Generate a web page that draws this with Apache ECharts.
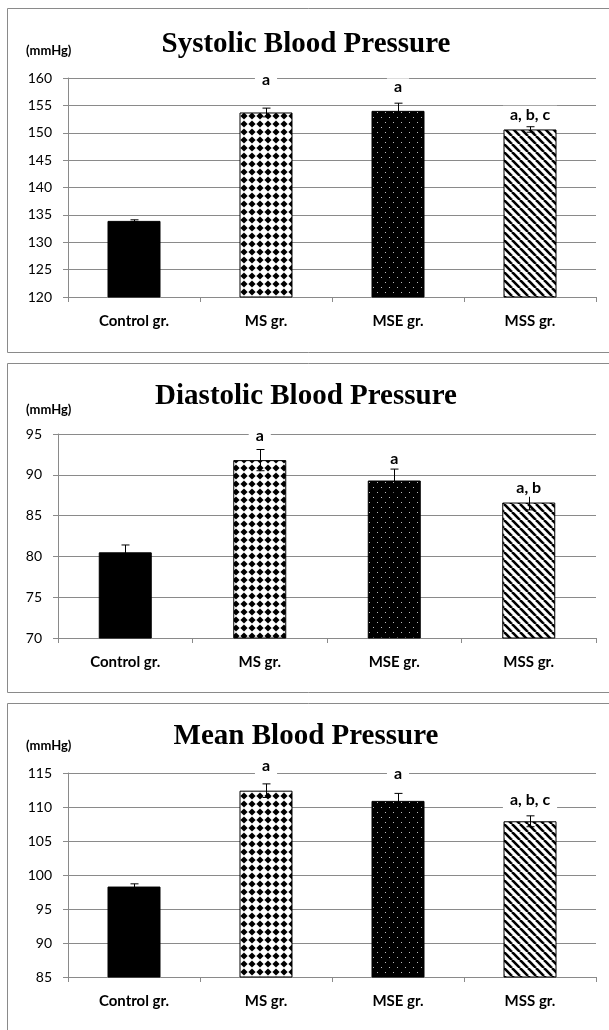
<!DOCTYPE html>
<html>
<head>
<meta charset="utf-8">
<script src="https://cdn.jsdelivr.net/npm/echarts@6/dist/echarts.min.js"></script>
<style>
  html, body { margin: 0; padding: 0; background: #fff; }
  #main { width: 609px; height: 1030px; }
</style>
</head>
<body>
<div id="main"></div>
<script>
// groups on the x axis
var groups = ['Control gr.', 'MS gr.', 'MSE gr.', 'MSS gr.'];

// systolic
var sysTicks = [120, 125, 130, 135, 140, 145, 150, 155, 160];
var sysMean = [133.9, 153.7, 154.0, 150.6];
var sysErr = [0.2, 0.8, 1.4, 0.5];
var sysLetters = ['', 'a', 'a', 'a, b, c'];
var sysLetterAt = [null, 159.6, 158.3, 153.3];

// diastolic
var diaTicks = [70, 75, 80, 85, 90, 95];
var diaMean = [80.5, 91.8, 89.3, 86.6];
var diaErr = [0.9, 1.3, 1.4, 0.9];
var diaLetters = ['', 'a', 'a', 'a, b'];
var diaLetterAt = [null, 94.8, 92.0, 88.4];

// mean
var meanTicks = [85, 90, 95, 100, 105, 110, 115];
var meanMean = [98.3, 112.4, 110.9, 107.9];
var meanErr = [0.4, 1.0, 1.1, 0.8];
var meanLetters = ['', 'a', 'a', 'a, b, c'];
var meanLetterAt = [null, 116.0, 114.9, 111.0];

var titles = ['Systolic Blood Pressure', 'Diastolic Blood Pressure', 'Mean Blood Pressure'];

// fill patterns like the excel ones
function makeTile(w, h, draw) {
  var c = document.createElement('canvas');
  c.width = w;
  c.height = h;
  draw(c.getContext('2d'), w, h);
  return c;
}
var diamondTile = makeTile(8, 8, function (ctx) {
  ctx.fillStyle = '#fff';
  ctx.fillRect(0, 0, 8, 8);
  ctx.fillStyle = '#000';
  ctx.beginPath();
  ctx.moveTo(4, 0.4); ctx.lineTo(7.6, 4); ctx.lineTo(4, 7.6); ctx.lineTo(0.4, 4);
  ctx.closePath();
  ctx.fill();
});
var dotTile = makeTile(8, 10, function (ctx) {
  ctx.fillStyle = '#000';
  ctx.fillRect(0, 0, 8, 10);
  ctx.fillStyle = '#bbb';
  ctx.fillRect(1, 2, 1, 1);
  ctx.fillRect(5, 7, 1, 1);
});
var stripeTile = makeTile(8, 8, function (ctx) {
  ctx.fillStyle = '#fff';
  ctx.fillRect(0, 0, 8, 8);
  ctx.strokeStyle = '#000';
  ctx.lineWidth = 2.6;
  [-8, 0, 8].forEach(function (o) {
    ctx.beginPath();
    ctx.moveTo(o, 0);
    ctx.lineTo(o + 8, 8);
    ctx.stroke();
  });
});
var fills = [
  '#000',
  { image: diamondTile, repeat: 'repeat' },
  { image: dotTile, repeat: 'repeat' },
  { image: stripeTile, repeat: 'repeat' }
];

var panels = [
  { ticks: sysTicks, mean: sysMean, err: sysErr, letters: sysLetters, at: sysLetterAt, left: 68, top: 78, height: 219, boxTop: 8, boxH: 344, titleY: 45, unitY: 51 },
  { ticks: diaTicks, mean: diaMean, err: diaErr, letters: diaLetters, at: diaLetterAt, left: 58, top: 434, height: 204, boxTop: 363, boxH: 329, titleY: 397, unitY: 410 },
  { ticks: meanTicks, mean: meanMean, err: meanErr, letters: meanLetters, at: meanLetterAt, left: 68, top: 773, height: 204, boxTop: 703, boxH: 340, titleY: 737, unitY: 746 }
];

var grid = [], xAxis = [], yAxis = [], series = [], graphic = [];

panels.forEach(function (p, k) {
  graphic.push({
    type: 'rect', z: -10,
    shape: { x: 7.5, y: p.boxTop + 0.5, width: 640, height: p.boxH },
    style: { fill: 'none', stroke: '#8a8a8a', lineWidth: 1 }
  });
  graphic.push({
    type: 'text', x: 306, y: p.titleY,
    style: { text: titles[k], fill: '#000', font: 'bold 29px "Liberation Serif"', align: 'center', verticalAlign: 'middle' }
  });
  graphic.push({
    type: 'text', x: 26, y: p.unitY,
    style: { text: '(mmHg)', fill: '#000', font: 'bold 13px Lato', align: 'left', verticalAlign: 'middle' }
  });

  grid.push({ left: p.left, right: 13, top: p.top, height: p.height });
  xAxis.push({
    type: 'category', gridIndex: k, data: groups,
    axisLine: { lineStyle: { color: '#8a8a8a' } },
    axisTick: { show: true, length: 5, lineStyle: { color: '#8a8a8a' } },
    axisLabel: { color: '#000', fontFamily: 'Lato', fontWeight: 'bold', fontSize: 15, margin: 17 }
  });
  yAxis.push({
    type: 'value', gridIndex: k,
    min: p.ticks[0], max: p.ticks[p.ticks.length - 1], interval: p.ticks[1] - p.ticks[0],
    axisLine: { show: true, lineStyle: { color: '#8a8a8a' } },
    axisTick: { show: true, length: 5, lineStyle: { color: '#8a8a8a' } },
    axisLabel: { color: '#000', fontFamily: 'Lato', fontSize: 14, margin: 16 },
    splitLine: { lineStyle: { color: '#8a8a8a', width: 1 } }
  });

  series.push({
    type: 'bar', xAxisIndex: k, yAxisIndex: k,
    barWidth: 53,
    data: p.mean.map(function (v, i) {
      return { value: v, itemStyle: { color: fills[i], borderColor: '#000', borderWidth: 1 } };
    }),
    animation: false
  });

  // error bars
  series.push({
    type: 'custom', xAxisIndex: k, yAxisIndex: k, z: 5,
    data: p.mean.map(function (v, i) { return [i, v - p.err[i], v + p.err[i]]; }),
    renderItem: function (params, api) {
      var top = api.coord([api.value(0), api.value(2)]);
      var bot = api.coord([api.value(0), api.value(1)]);
      var x = Math.round(top[0]) + 0.5;
      var st = { stroke: '#000', lineWidth: 1 };
      return {
        type: 'group',
        children: [
          { type: 'line', shape: { x1: x, y1: top[1], x2: x, y2: bot[1] }, style: st },
          { type: 'line', shape: { x1: x - 4, y1: top[1], x2: x + 4, y2: top[1] }, style: st },
          { type: 'line', shape: { x1: x - 4, y1: bot[1], x2: x + 4, y2: bot[1] }, style: st }
        ]
      };
    },
    animation: false
  });

  // significance letters, white box cuts the gridline
  var marks = [];
  p.letters.forEach(function (t, i) {
    if (t) marks.push([i, p.at[i], t]);
  });
  series.push({
    type: 'custom', xAxisIndex: k, yAxisIndex: k, z: 6, clip: false,
    data: marks,
    renderItem: function (params, api) {
      var pt = api.coord([api.value(0), api.value(1)]);
      return {
        type: 'text',
        x: pt[0], y: pt[1],
        style: {
          text: marks[params.dataIndex][2],
          fill: '#000', font: 'bold 16px Lato',
          align: 'center', verticalAlign: 'middle',
          backgroundColor: '#fff', padding: [1, 7]
        }
      };
    },
    animation: false
  });
});

var chart = echarts.init(document.getElementById('main'));
chart.setOption({
  backgroundColor: '#fff',
  animation: false,
  grid: grid,
  xAxis: xAxis,
  yAxis: yAxis,
  series: series,
  graphic: graphic
});
</script>
</body>
</html>
